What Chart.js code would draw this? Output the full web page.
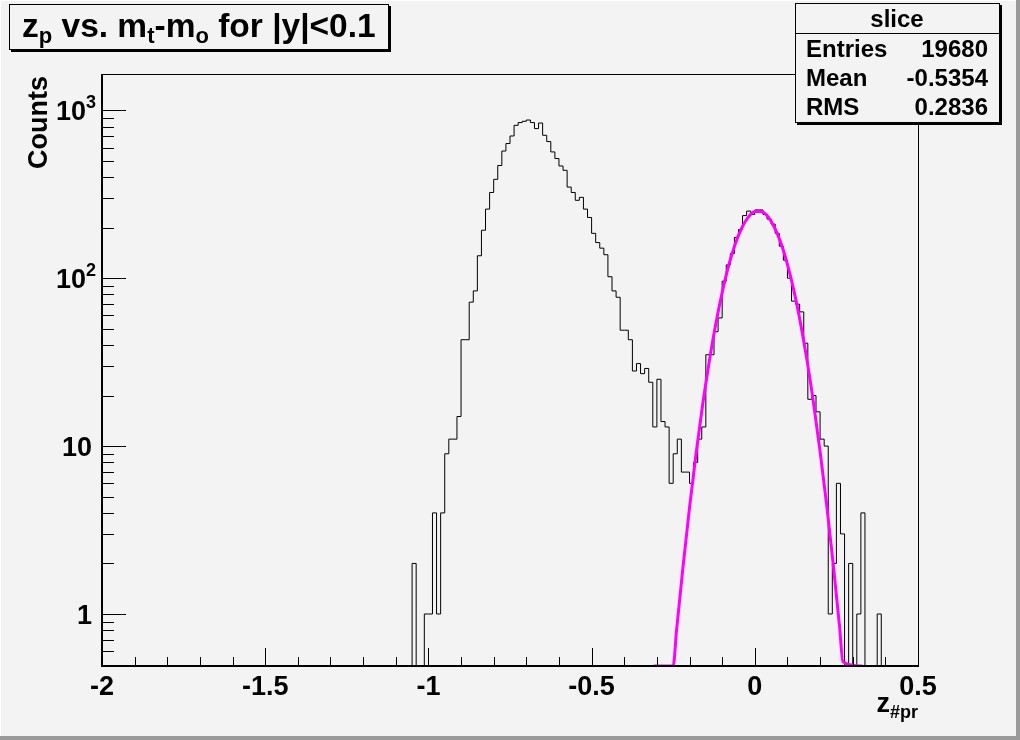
<!DOCTYPE html>
<html>
<head>
<meta charset="utf-8">
<script src="https://cdn.jsdelivr.net/npm/chart.js@4.4.0/dist/chart.umd.min.js"></script>
<style>
  html, body { margin: 0; padding: 0; background: #f3f3f3; }
  canvas { display: block; }
</style>
</head>
<body>
<canvas id="chart" width="1020" height="740"></canvas>
<script>
// histogram "slice", bins of 0.0125 starting at -1.05 (all other bins empty)
const binStart = -1.05;
const binWidth = 0.0125;
const counts = [
    2, 0, 0, 1, 1, 4, 1, 4, 9, 11, 11, 15, 43, 43, 72, 84,
    136, 193, 258, 324, 388, 469, 572, 634, 703, 814, 845, 860, 875, 845, 778, 840,
    710, 651, 565, 516, 466, 439, 349, 324, 291, 303, 258, 230, 185, 163, 151, 138,
    102, 84, 77, 49, 49, 43, 28, 31, 27, 29, 24, 13, 25, 14, 13, 6,
    9, 11, 7, 7, 6, 8, 11, 13, 35, 35, 48, 58, 96, 120, 140, 175,
    195, 236, 251, 240, 255, 255, 240, 225, 210, 185, 155, 128, 100, 73, 70, 63,
    41, 19, 20, 16, 11, 10, 1, 2, 6, 3, 0, 2, 0, 1, 4, 0,
    0, 0, 1
];

// gaussian fit drawn in magenta (flat at the axis floor)
const fitX = [-0.31, -0.25, -0.24, -0.22, -0.20, -0.18, -0.16, -0.14, -0.12, -0.10,
    -0.08, -0.06, -0.04, -0.02, 0.00, 0.02, 0.04, 0.06, 0.08, 0.10,
    0.12, 0.14, 0.16, 0.18, 0.20, 0.22, 0.24, 0.26, 0.27, 0.33];
const fitY = [0.49, 0.49, 0.79, 1.9, 4.3, 9.0, 17.5, 31.5, 52.8, 82,
    119, 160, 199, 231, 249.5, 250, 233, 201, 162, 121,
    84, 54, 32.4, 18, 9.3, 4.5, 2.0, 0.83, 0.52, 0.49];

// axes
const xRange = [-2, 0.5];
const yRange = [0.49, 1645];
const xTicks = [-2, -1.5, -1, -0.5, 0, 0.5];
const xTickLabels = ['-2', '-1.5', '-1', '-0.5', '0', '0.5'];
const yDecades = [1, 10, 100, 1000];
const yDecadeLabels = [['1', ''], ['10', ''], ['10', '2'], ['10', '3']];

// stats box
const statNames = ['Entries', 'Mean', 'RMS'];
const statValues = ['19680', '-0.5354', '0.2836'];

const FONT = '"Liberation Sans", Arial, Helvetica, sans-serif';

// points for the step outline; empty bins sit on the axis floor like in ROOT
const floorY = yRange[0];
const histPoints = [{ x: xRange[0], y: floorY }];
counts.forEach((c, i) => histPoints.push({ x: binStart + i * binWidth, y: c > 0 ? c : floorY }));
histPoints.push({ x: binStart + counts.length * binWidth, y: floorY });
histPoints.push({ x: xRange[1], y: floorY });

const fitPoints = fitX.map((x, i) => ({ x: x, y: fitY[i] }));

function drawRich(ctx, parts, x, y, size, subSize, subShift) {
    // draws text with subscripts, returns the end x
    parts.forEach(p => {
        const s = p.sub ? subSize : size;
        ctx.font = 'bold ' + s + 'px ' + FONT;
        ctx.fillText(p.t, x, p.sub ? y + subShift : y);
        x += ctx.measureText(p.t).width;
    });
    return x;
}

function richWidth(ctx, parts, size, subSize) {
    let w = 0;
    parts.forEach(p => {
        ctx.font = 'bold ' + (p.sub ? subSize : size) + 'px ' + FONT;
        w += ctx.measureText(p.t).width;
    });
    return w;
}

const rootStyle = {
    id: 'rootStyle',
    beforeDraw(chart) {
        const ctx = chart.ctx;
        ctx.save();
        ctx.fillStyle = '#f3f3f3';
        ctx.fillRect(0, 0, chart.width, chart.height);
        // canvas bevel
        ctx.fillStyle = '#ffffff';
        ctx.fillRect(0, 0, chart.width, 1);
        ctx.fillRect(0, 0, 1, chart.height);
        ctx.fillStyle = '#9a9a9a';
        ctx.fillRect(chart.width - 4, 0, 4, chart.height);
        ctx.fillRect(0, chart.height - 4, chart.width, 4);
        ctx.restore();
    },
    afterDatasetsDraw(chart) {
        const ctx = chart.ctx;
        const a = chart.chartArea;
        const xs = chart.scales.x;
        const ys = chart.scales.y;
        ctx.save();
        ctx.strokeStyle = '#000';
        ctx.fillStyle = '#000';

        // frame
        ctx.lineWidth = 1;
        ctx.strokeRect(a.left + 0.5, a.top + 0.5, a.right - a.left, a.bottom - a.top);
        ctx.lineWidth = 2;
        ctx.beginPath();
        ctx.moveTo(a.left, a.top);
        ctx.lineTo(a.left, a.bottom);
        ctx.lineTo(a.right, a.bottom);
        ctx.stroke();

        // x ticks (inside the frame)
        ctx.lineWidth = 1;
        ctx.beginPath();
        for (let k = 0; k <= 25; k++) {
            const v = xRange[0] + k * 0.1;
            const px = Math.round(xs.getPixelForValue(v)) + 0.5;
            const len = (k % 5 === 0) ? 18 : 9;
            ctx.moveTo(px, a.bottom);
            ctx.lineTo(px, a.bottom - len);
        }
        // y ticks, log decades
        for (let d = -1; d <= 3; d++) {
            for (let m = 1; m <= 9; m++) {
                const v = m * Math.pow(10, d);
                if (v < yRange[0] || v > yRange[1]) continue;
                const py = Math.round(ys.getPixelForValue(v)) + 0.5;
                const len = (m === 1) ? 24 : 12;
                ctx.moveTo(a.left, py);
                ctx.lineTo(a.left + len, py);
            }
        }
        ctx.stroke();

        // x tick labels
        ctx.font = 'bold 27px ' + FONT;
        ctx.textAlign = 'center';
        xTicks.forEach((v, i) => {
            ctx.fillText(xTickLabels[i], xs.getPixelForValue(v), 695);
        });

        // y tick labels
        yDecades.forEach((v, i) => {
            const py = ys.getPixelForValue(v);
            const base = yDecadeLabels[i][0];
            const sup = yDecadeLabels[i][1];
            let right = 92;
            ctx.textAlign = 'right';
            if (sup) {
                right = 96;
                ctx.font = 'bold 18px ' + FONT;
                ctx.fillText(sup, right, py - 2);
                right -= ctx.measureText(sup).width;
            }
            ctx.font = 'bold 27px ' + FONT;
            ctx.fillText(base, right, py + 9.6);
        });

        // axis titles
        ctx.textAlign = 'left';
        const xTitle = [{ t: 'z' }, { t: '#pr', sub: true }];
        const xw = richWidth(ctx, xTitle, 27, 18);
        drawRich(ctx, xTitle, a.right - xw, 712, 27, 18, 6);

        ctx.save();
        ctx.translate(47, 76);
        ctx.rotate(-Math.PI / 2);
        ctx.textAlign = 'right';
        ctx.font = 'bold 27px ' + FONT;
        ctx.fillText('Counts', 0, 0);
        ctx.restore();

        // title box
        ctx.fillStyle = '#f3f3f3';
        ctx.fillRect(9, 4, 380, 46);
        ctx.fillStyle = '#000';
        ctx.lineWidth = 1;
        ctx.strokeRect(9.5, 4.5, 379, 45);
        ctx.fillRect(389, 6, 2, 46);
        ctx.fillRect(11, 50, 380, 2);
        const title = [{ t: 'z' }, { t: 'p', sub: true }, { t: ' vs. m' }, { t: 't', sub: true },
            { t: '-m' }, { t: 'o', sub: true }, { t: ' for |y|<0.1' }];
        ctx.textAlign = 'left';
        drawRich(ctx, title, 22, 37, 33.5, 22, 6);

        // stats box
        ctx.fillStyle = '#f3f3f3';
        ctx.fillRect(795, 3, 205, 120);
        ctx.fillStyle = '#000';
        ctx.strokeRect(795.5, 3.5, 204, 119);
        ctx.fillRect(1000, 5, 2, 120);
        ctx.fillRect(797, 123, 205, 2);
        ctx.fillRect(795, 33, 205, 1);
        ctx.font = 'bold 24px ' + FONT;
        ctx.textAlign = 'center';
        ctx.fillText('slice', 897, 27);
        statNames.forEach((n, i) => {
            const by = 57 + i * 29;
            ctx.textAlign = 'left';
            ctx.fillText(n, 806, by);
            ctx.textAlign = 'right';
            ctx.fillText(statValues[i], 988, by);
        });
        ctx.restore();
    }
};

new Chart(document.getElementById('chart'), {
    type: 'line',
    data: {
        datasets: [
            {
                label: 'fit',
                data: fitPoints,
                borderColor: '#ff00ff',
                borderWidth: 3,
                pointRadius: 0,
                fill: false,
                cubicInterpolationMode: 'monotone',
                order: 0
            },
            {
                label: 'slice',
                data: histPoints,
                borderColor: '#000000',
                borderWidth: 1,
                pointRadius: 0,
                fill: false,
                stepped: 'before',
                order: 1
            }
        ]
    },
    options: {
        responsive: false,
        animation: false,
        devicePixelRatio: 1,
        layout: { padding: { left: 102, right: 102, top: 74, bottom: 74 } },
        plugins: { legend: { display: false }, tooltip: { enabled: false } },
        scales: {
            x: { type: 'linear', min: xRange[0], max: xRange[1], bounds: 'data', display: false },
            y: { type: 'logarithmic', min: yRange[0], max: yRange[1], bounds: 'data', display: false }
        }
    },
    plugins: [rootStyle]
});
</script>
</body>
</html>
